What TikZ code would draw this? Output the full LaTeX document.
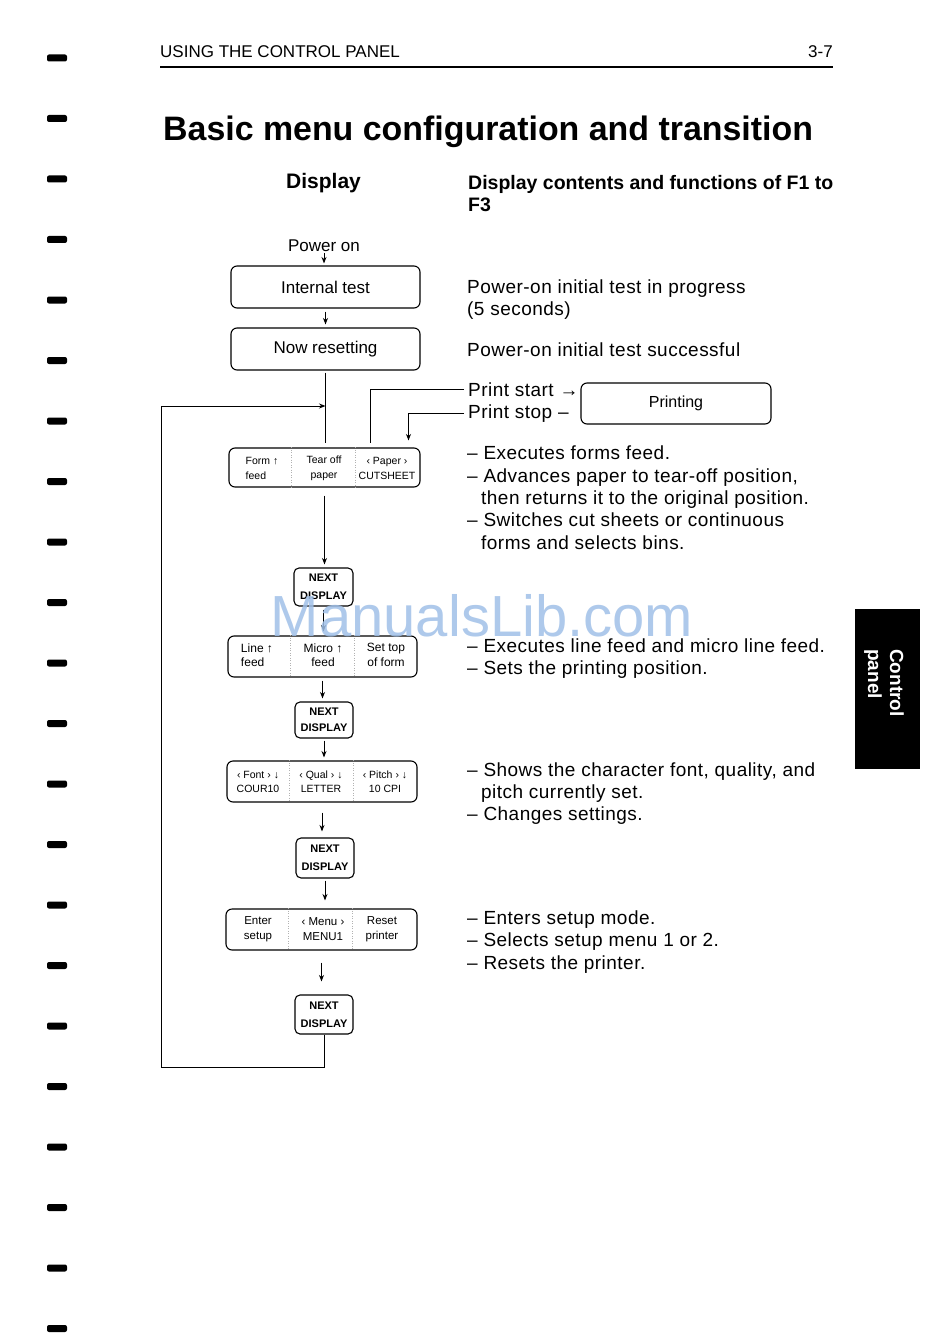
\documentclass[tikz,border=0pt]{standalone}
\usepackage{fontspec}
\setmainfont{Liberation Sans}
\newfontfamily\spacedfont[LetterSpace=2.5]{Liberation Sans}
\usetikzlibrary{arrows.meta}
\definecolor{wmblue}{RGB}{160,192,232}
\begin{document}
\begin{tikzpicture}[x=1pt,y=-1pt,
  every node/.style={inner sep=0pt},
  ln/.style={line width=1pt},
  arr/.style={line width=1pt,-{Stealth[length=6.5pt,width=5pt]}},
  txt/.style={anchor=base west,font=\spacedfont\fontsize{19}{22}\selectfont},
  dbox/.style={draw,line width=1.1pt,rounded corners=6pt,minimum width=189pt,minimum height=42pt,font=\fontsize{17}{20}\selectfont},
  fbox/.style={draw,line width=1.1pt,rounded corners=6pt,minimum width=190pt,minimum height=41pt},
  nbox/.style={draw,line width=1.1pt,rounded corners=5pt,minimum width=58pt,minimum height=38pt,align=center,font=\fontsize{11}{18}\selectfont\bfseries},
  divl/.style={gray!60,line width=0.5pt,dotted},
  holemark/.style={fill=black,rounded corners=2pt}
]
\fill[white] (0,0) rectangle (950,1340);
\useasboundingbox (0,0) rectangle (950,1340);

% binding marks
\foreach \k in {0,...,21}
  \fill[holemark] (47,{58+60.5*\k-3.5}) rectangle (67,{58+60.5*\k+3.5});

% header
\node[anchor=base west,font=\fontsize{17}{20}\selectfont] (hdr) at (160,58) {USING THE CONTROL PANEL};
\node[anchor=base east,font=\fontsize{17}{20}\selectfont] (pg) at (833,58) {3-7};
\draw[line width=1.4pt] (160,67) -- (833,67);

\node[anchor=base west,font=\fontsize{33.9}{40}\selectfont\bfseries] (title) at (163,141) {Basic menu configuration and transition};

\node[anchor=base west,font=\fontsize{21}{24}\selectfont\bfseries] (dhead) at (286,189) {Display};
\node[anchor=base west,font=\fontsize{19.5}{22}\selectfont\bfseries] (fhead1) at (468,190) {Display contents and functions of F1 to};
\node[anchor=base west,font=\fontsize{19.5}{22}\selectfont\bfseries] (fhead2) at (468,212) {F3};

% flow
\node[font=\fontsize{17}{20}\selectfont] (pwr) at (324,246) {Power on};
\node[dbox] (it) at (325.5,287) {Internal test};
\node[dbox] (nr) at (325.5,349) {Now resetting};
\node[dbox,minimum width=190pt,minimum height=41pt,font=\fontsize{16}{19}\selectfont] (prt) at (676,403.5) {Printing};

% form feed box
\node[fbox,minimum width=191pt,minimum height=39pt] (ff) at (324.5,467.5) {};
\node[align=left,font=\fontsize{10.5}{15}\selectfont] (ff1) at (262,468) {Form ↑\\feed};
\node[align=center,font=\fontsize{10.5}{15}\selectfont] (ff2) at (324,468) {Tear off\\paper};
\node[align=center,font=\fontsize{10.5}{15}\selectfont] (ff3) at (387,468) {‹ Paper ›\\CUTSHEET};
\draw[divl] ([xshift=63pt]ff.north west) -- ([xshift=63pt]ff.south west);
\draw[divl] ([xshift=127pt]ff.north west) -- ([xshift=127pt]ff.south west);

\node[nbox,minimum width=59pt] (nd1) at (323.5,587) {NEXT\\DISPLAY};

% line feed box
\node[fbox,minimum width=189pt] (lf) at (322.5,656.5) {};
\node[align=left,font=\fontsize{12}{14.5}\selectfont] (lf1) at (257,655) {Line ↑\\feed};
\node[align=center,font=\fontsize{12}{14.5}\selectfont] (lf2) at (323,655) {Micro ↑\\feed};
\node[align=center,font=\fontsize{12}{14.5}\selectfont] (lf3) at (386,655) {Set top\\of form};
\draw[divl] ([xshift=63pt]lf.north west) -- ([xshift=63pt]lf.south west);
\draw[divl] ([xshift=127pt]lf.north west) -- ([xshift=127pt]lf.south west);

\node[nbox,minimum height=36pt,font=\fontsize{11}{16}\selectfont\bfseries] (nd2) at (324,720) {NEXT\\DISPLAY};

% font box
\node[fbox] (fo) at (322,781.5) {};
\node[align=center,font=\fontsize{10.5}{14}\selectfont] (fo1) at (258,782) {‹ Font › ↓\\COUR10};
\node[align=center,font=\fontsize{10.5}{14}\selectfont] (fo2) at (321,782) {‹ Qual › ↓\\LETTER};
\node[align=center,font=\fontsize{10.5}{14}\selectfont] (fo3) at (385,782) {‹ Pitch › ↓\\10 CPI};
\draw[divl] ([xshift=63pt]fo.north west) -- ([xshift=63pt]fo.south west);
\draw[divl] ([xshift=127pt]fo.north west) -- ([xshift=127pt]fo.south west);

\node[nbox,minimum height=40pt] (nd3) at (325,858) {NEXT\\DISPLAY};

% enter setup box
\node[fbox,minimum width=191pt] (en) at (321.5,929.5) {};
\node[align=center,font=\fontsize{11.5}{15}\selectfont] (en1) at (258,929.5) {Enter\\setup};
\node[align=center,font=\fontsize{11.5}{15}\selectfont] (en2) at (323,929.5) {‹ Menu ›\\MENU1};
\node[align=center,font=\fontsize{11.5}{15}\selectfont] (en3) at (382,929.5) {Reset\\printer};
\draw[divl] ([xshift=63pt]en.north west) -- ([xshift=63pt]en.south west);
\draw[divl] ([xshift=127pt]en.north west) -- ([xshift=127pt]en.south west);

\node[nbox,minimum height=39pt] (nd4) at (324,1014.5) {NEXT\\DISPLAY};

% connectors
\draw[arr] ([yshift=-1pt]pwr.south) -- ([yshift=2pt]pwr.south |- it.north);
\draw[arr] ([yshift=-3pt]it.south) -- ([yshift=3pt]it.south |- nr.north);
\draw[ln] ([yshift=-2pt]nr.south) -- ([yshift=4pt]nr.south |- ff.north);
\draw[arr] ([yshift=-8pt]ff.south) -- ([yshift=3pt]ff.south |- nd1.north);
\draw[arr] ([yshift=-3pt]nd1.south) -- ([yshift=4pt]nd1.south |- lf.north);
\draw[arr] ([yshift=-3pt]lf.south) -- ([yshift=3pt]lf.south |- nd2.north);
\draw[arr] ([yshift=-2pt]nd2.south) -- ([yshift=3pt]nd2.south |- fo.north);
\draw[arr] ([yshift=-10pt]fo.south) -- ([yshift=6pt]fo.south |- nd3.north);
\draw[arr] ([yshift=-2pt]nd3.south) -- ([yshift=8pt]nd3.south |- en.north);
\draw[arr] ([yshift=-12pt]en.south) -- ([yshift=13pt]en.south |- nd4.north);

\coordinate (lb) at (161,1067);
\coordinate (lt) at (161,406);
\draw[arr] (nd4.south) -- (nd4.south |- lb) -- (lb) -- (lt) -- (nr.south |- lt);

% right column texts
\node[txt] (t1a) at (467,293) {Power-on initial test in progress};
\node[txt] (t1b) at (467,315) {(5 seconds)};
\node[txt] (t2) at (467,356) {Power-on initial test successful};
\node[txt] (pstart) at (468,396) {Print start →};
\node[txt] (pstop) at (468,418) {Print stop –};
\draw[ln] ([xshift=-4pt]pstart.west) -| ([xshift=45.5pt,yshift=4pt]ff.north);
\draw[arr] ([xshift=-4pt]pstop.west) -| ([xshift=84pt,yshift=7pt]ff.north);

\node[txt] (t3a) at (467,459) {– Executes forms feed.};
\node[txt] (t3b) at (467,482) {– Advances paper to tear-off position,};
\node[txt] (t3c) at (481,504) {then returns it to the original position.};
\node[txt] (t3d) at (467,526) {– Switches cut sheets or continuous};
\node[txt] (t3e) at (481,549) {forms and selects bins.};

\node[txt] (t4a) at (467,652) {– Executes line feed and micro line feed.};
\node[txt] (t4b) at (467,674) {– Sets the printing position.};

\node[txt] (t5a) at (467,776) {– Shows the character font, quality, and};
\node[txt] (t5b) at (481,798) {pitch currently set.};
\node[txt] (t5c) at (467,820) {– Changes settings.};

\node[txt] (t6a) at (467,924) {– Enters setup mode.};
\node[txt] (t6b) at (467,946) {– Selects setup menu 1 or 2.};
\node[txt] (t6c) at (467,969) {– Resets the printer.};

% side tab
\fill[black] (855,609) rectangle (920,769);
\node[rotate=-90,text=white,align=left,font=\fontsize{19}{22}\selectfont\bfseries] (tab) at (884,683) {Control\\panel};

% watermark
\node[text=wmblue,opacity=0.85,font=\fontsize{58}{60}\selectfont] (wm) at (482,616) {ManualsLib.com};
\end{tikzpicture}
\end{document}
